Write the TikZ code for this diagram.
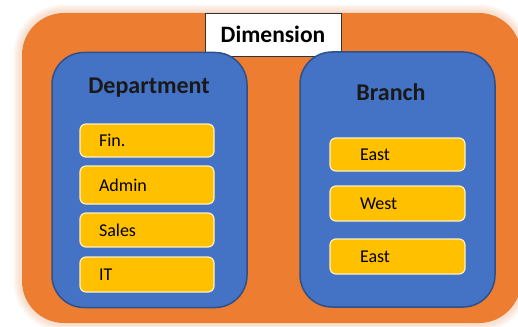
\documentclass[tikz,border=0pt]{standalone}
\usepackage{fontspec}
\setmainfont{Carlito}
\definecolor{dimorange}{HTML}{ED7D31}
\definecolor{grpblue}{HTML}{4472C4}
\definecolor{itemyellow}{HTML}{FFC000}
\tikzset{
  outerbox/.style={fill=dimorange, rounded corners=42pt, minimum width=499pt, minimum height=310pt, inner sep=0pt},
  groupbox/.style={fill=grpblue, draw=grpblue!70!black, line width=1.5pt, rounded corners=32pt, minimum width=195pt, minimum height=255pt, inner sep=0pt},
  titlebox/.style={fill=white, draw=black!80, line width=0.8pt, minimum width=136pt, minimum height=43pt, inner sep=0pt, font=\fontsize{23.5}{26}\selectfont\bfseries},
  grouptitle/.style={font=\fontsize{24}{28}\selectfont\bfseries, text=black!90},
  deptitem/.style={fill=itemyellow, draw=white!75!itemyellow, line width=1.2pt, rounded corners=6pt, inner xsep=19pt, inner ysep=0pt, text width=96pt, text depth=0pt, align=left, font=\fontsize{18}{21}\selectfont},
  branchitem/.style={deptitem, inner xsep=30pt, text width=75pt},
}
\begin{document}
\begin{tikzpicture}[x=1pt, y=-1pt]
\useasboundingbox[fill=white] (0,0) rectangle (518,326);
% orange area
\node[outerbox] (dimarea) at (271.5,168) {};
\foreach \g in {16,11,6} {
  \draw[dimorange, opacity=0.08, line width=\g pt, rounded corners=42pt] (dimarea.south west) rectangle (dimarea.north east);
}
\node[titlebox] (dim) at (273,34.5) {Dimension};
% groups
\node[groupbox] (dept) at (149.5,180) {};
\node[groupbox] (branch) at (397.5,179.5) {};
\node[grouptitle] (depttitle) at (149,88) {Department};
\node[grouptitle] (branchtitle) at (391,92) {Branch};
% department items
\node[deptitem, minimum height=33pt] (fin) at (147,140.5) {Fin.};
\node[deptitem, minimum height=38pt] (admin) at (147,185) {Admin};
\node[deptitem, minimum height=34pt] (sales) at (147,230) {Sales};
\node[deptitem, minimum height=35pt] (it) at (147,274.5) {IT};
% branch items
\node[branchitem, minimum height=33pt] (east) at (397.5,154.5) {East};
\node[branchitem, minimum height=35pt] (west) at (397.5,203.5) {West};
\node[branchitem, minimum height=35pt] (eastb) at (397.5,256.5) {East};
\end{tikzpicture}
\end{document}
